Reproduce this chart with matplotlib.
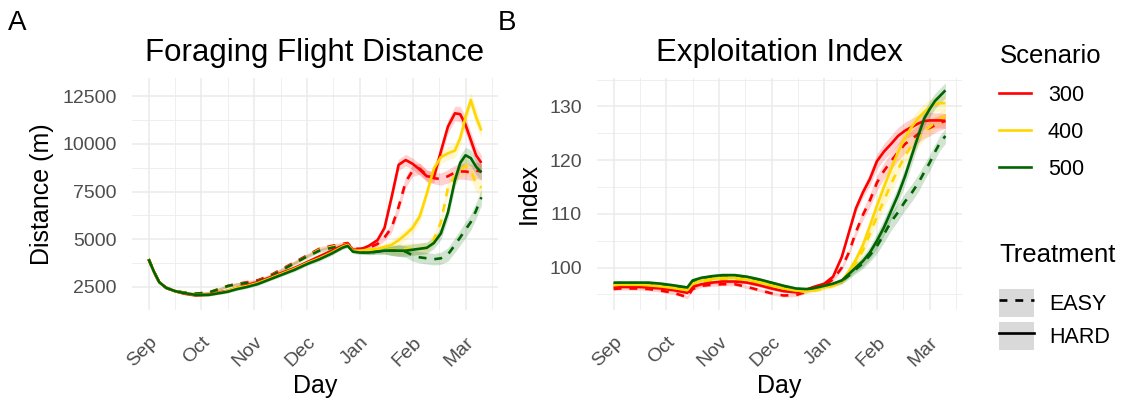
import matplotlib
matplotlib.use("Agg")
import matplotlib.pyplot as plt
import matplotlib.transforms as mtransforms
from matplotlib.lines import Line2D
from matplotlib.patches import Patch
from matplotlib.legend_handler import HandlerTuple
import numpy as np

plt.rcParams['font.family'] = ['Liberation Sans', 'DejaVu Sans']

# ---------------- data ----------------
days = [0, 3, 6, 10, 15, 20, 27, 34, 42, 45, 50, 56, 62, 69, 76, 83, 90, 97, 104, 110,
        113, 116, 120, 125, 130, 134, 138, 142, 146, 150, 154, 158, 162, 166, 170, 174,
        177, 180, 183, 186, 189]
month_ticks = [0, 30, 60, 90, 120, 150, 180]
month_labels = ["Sep", "Oct", "Nov", "Dec", "Jan", "Feb", "Mar"]
scenarios = ["300", "400", "500"]
treatments = ["EASY", "HARD"]
scenario_colors = {"300": "#FF0000", "400": "#FFD700", "500": "#006400"}

# Foraging flight distance (m)
dist_300_hard = [3950, 3300, 2750, 2450, 2280, 2150, 2050, 2100, 2250, 2300, 2450, 2600, 2750, 3000,
                 3250, 3500, 3800, 4100, 4400, 4650, 4750, 4450, 4450, 4650, 4950, 5600, 7200, 8900,
                 9150, 8950, 8650, 8300, 8250, 9600, 10900, 11600, 11550, 11000, 10200, 9400, 9000]
dist_300_easy = [3950, 3300, 2750, 2450, 2300, 2200, 2150, 2200, 2450, 2550, 2650, 2750, 2850, 3100,
                 3450, 3800, 4150, 4500, 4650, 4750, 4800, 4500, 4500, 4550, 4750, 5100, 5600, 6700,
                 8000, 8600, 8700, 8350, 8200, 8150, 8300, 8500, 8550, 8550, 8500, 8600, 8550]
dist_400_hard = [3950, 3300, 2750, 2450, 2280, 2180, 2080, 2080, 2220, 2300, 2450, 2550, 2700, 2950,
                 3200, 3450, 3750, 4000, 4300, 4600, 4700, 4400, 4400, 4450, 4500, 4600, 4700, 4950,
                 5250, 5600, 6200, 7400, 8700, 9300, 9500, 9650, 10300, 11400, 12300, 11400, 10700]
dist_400_easy = [3950, 3300, 2750, 2450, 2280, 2200, 2150, 2200, 2450, 2550, 2650, 2700, 2800, 3050,
                 3400, 3750, 4100, 4450, 4600, 4700, 4750, 4450, 4400, 4400, 4450, 4450, 4450, 4450,
                 4500, 4500, 4500, 4550, 5000, 5900, 7700, 8300, 8600, 8850, 8600, 7900, 7700]
dist_500_hard = [3950, 3300, 2750, 2450, 2280, 2180, 2080, 2080, 2200, 2250, 2380, 2500, 2650, 2900,
                 3150, 3400, 3700, 3950, 4250, 4550, 4650, 4350, 4300, 4300, 4350, 4400, 4400, 4400,
                 4400, 4450, 4500, 4550, 4800, 5300, 6400, 8100, 9000, 9400, 9250, 8800, 8500]
dist_500_easy = [3950, 3300, 2750, 2450, 2280, 2200, 2150, 2200, 2450, 2550, 2650, 2700, 2800, 3050,
                 3400, 3750, 4100, 4400, 4550, 4650, 4700, 4400, 4350, 4300, 4350, 4400, 4400, 4400,
                 4350, 4150, 4050, 4000, 3950, 4000, 4200, 4700, 5100, 5500, 5900, 6500, 7200]
dist_halfwidth = [120, 100, 80, 60, 60, 60, 60, 60, 70, 70, 70, 70, 80, 80, 80, 90, 90, 100, 100, 100,
                  100, 100, 100, 110, 130, 180, 250, 300, 300, 300, 300, 300, 300, 320, 350, 380,
                  400, 420, 420, 420, 420]

# Exploitation index
idx_300_hard = [96.3, 96.4, 96.4, 96.4, 96.4, 96.3, 96.1, 95.8, 95.3, 96.4, 96.9, 97.2, 97.4, 97.4,
                97.2, 96.7, 96.1, 95.6, 95.4, 95.9, 96.3, 96.6, 97.0, 98.3, 102.0, 106.5, 111.0, 114.0,
                116.5, 119.8, 121.6, 123.0, 124.5, 125.5, 126.2, 126.9, 127.3, 127.4, 127.4, 127.4, 127.3]
idx_300_easy = [96.0, 96.1, 96.1, 96.1, 96.1, 96.0, 95.7, 95.3, 94.5, 96.0, 96.6, 96.8, 96.9, 96.9,
                96.4, 95.8, 95.2, 94.8, 94.9, 95.5, 95.9, 96.2, 96.7, 97.8, 100.0, 102.8, 106.6, 109.8,
                112.5, 115.8, 118.0, 119.8, 121.5, 123.0, 124.0, 125.0, 125.6, 126.0, 126.5, 127.0, 127.3]
idx_400_hard = [96.7, 96.8, 96.8, 96.8, 96.8, 96.7, 96.5, 96.2, 95.8, 97.0, 97.6, 97.9, 98.1, 98.1,
                97.8, 97.3, 96.7, 96.1, 95.7, 95.7, 95.8, 96.0, 96.3, 96.8, 97.5, 99.3, 101.5, 104.2,
                107.8, 111.5, 115.0, 118.3, 121.5, 124.2, 126.3, 128.0, 129.0, 129.8, 130.4, 130.6, 130.6]
idx_400_easy = [96.4, 96.5, 96.5, 96.5, 96.5, 96.4, 96.2, 95.9, 95.4, 96.7, 97.3, 97.6, 97.8, 97.8,
                97.5, 97.0, 96.4, 95.9, 95.5, 95.5, 95.6, 95.8, 96.1, 96.6, 97.3, 98.8, 100.8, 103.2,
                106.3, 109.5, 112.5, 115.5, 118.3, 120.8, 122.8, 124.3, 125.3, 126.2, 127.0, 127.7, 128.2]
idx_500_hard = [97.2, 97.2, 97.2, 97.2, 97.2, 97.2, 97.0, 96.7, 96.3, 97.6, 98.1, 98.4, 98.6, 98.6,
                98.3, 97.8, 97.2, 96.6, 96.1, 96.0, 96.1, 96.3, 96.6, 97.0, 97.6, 98.8, 100.0, 101.2,
                102.8, 105.0, 107.5, 110.5, 113.5, 117.0, 121.0, 125.0, 127.8, 129.5, 131.0, 132.0, 133.0]
idx_500_easy = [97.0, 97.1, 97.1, 97.1, 97.1, 97.0, 96.8, 96.5, 96.1, 97.4, 97.9, 98.2, 98.4, 98.4,
                98.1, 97.6, 97.0, 96.4, 96.0, 95.9, 96.0, 96.2, 96.5, 96.9, 97.5, 98.5, 99.7, 100.8,
                102.3, 104.0, 106.2, 108.5, 110.3, 112.3, 114.0, 116.0, 117.8, 119.5, 121.5, 123.3, 124.5]
idx_halfwidth = [0.3, 0.3, 0.3, 0.3, 0.3, 0.3, 0.3, 0.3, 0.3, 0.3, 0.3, 0.3, 0.3, 0.3, 0.3, 0.3, 0.3,
                 0.3, 0.3, 0.3, 0.3, 0.3, 0.3, 0.4, 0.5, 0.6, 0.8, 1.0, 1.2, 1.4, 1.5, 1.6, 1.6, 1.6,
                 1.6, 1.6, 1.5, 1.5, 1.4, 1.4, 1.4]

dist = {("300", "HARD"): dist_300_hard, ("300", "EASY"): dist_300_easy,
        ("400", "HARD"): dist_400_hard, ("400", "EASY"): dist_400_easy,
        ("500", "HARD"): dist_500_hard, ("500", "EASY"): dist_500_easy}
idx = {("300", "HARD"): idx_300_hard, ("300", "EASY"): idx_300_easy,
       ("400", "HARD"): idx_400_hard, ("400", "EASY"): idx_400_easy,
       ("500", "HARD"): idx_500_hard, ("500", "EASY"): idx_500_easy}

# ---------------- figure ----------------
W, H = 1122, 400
fig = plt.figure(figsize=(W / 100, H / 100), dpi=100)


def px_axes(l, r, t, b):
    return fig.add_axes([l / W, 1 - b / H, (r - l) / W, (b - t) / H])


axA = px_axes(132, 498, 78, 310)
axB = px_axes(597, 962, 78, 310)

LW = 1.9
GRID = "#EBEBEB"
TICKC = "#4D4D4D"


def draw(ax, data, hw):
    x = np.array(days)
    h = np.array(hw)
    for sc in scenarios:
        for tr in treatments:
            y = np.array(data[(sc, tr)])
            ax.fill_between(x, y - h, y + h, color=scenario_colors[sc], alpha=0.18, lw=0)
    for tr in treatments:
        for sc in scenarios:
            y = np.array(data[(sc, tr)])
            ls = (0, (3, 3)) if tr == "EASY" else "-"
            ax.plot(x, y, color=scenario_colors[sc], lw=LW, ls=ls, solid_capstyle="butt")


def style(ax, title, ylabel, yticks, yminor, ylim):
    ax.set_xlim(-9.45, 198.45)
    ax.set_ylim(*ylim)
    ax.set_xticks(month_ticks)
    ax.set_xticklabels(month_labels)
    ax.set_xticks([15, 45, 75, 105, 135, 165, 195], minor=True)
    ax.set_yticks(yticks)
    ax.set_yticks(yminor, minor=True)
    ax.grid(True, which="major", color=GRID, lw=1.1)
    ax.grid(True, which="minor", color=GRID, lw=0.55)
    ax.set_axisbelow(True)
    for s in ax.spines.values():
        s.set_visible(False)
    ax.tick_params(which="both", length=0)
    ax.tick_params(axis="y", labelsize=14, labelcolor=TICKC, pad=11)
    ax.tick_params(axis="x", labelsize=14, labelcolor=TICKC, pad=17)
    offset = mtransforms.ScaledTranslation(12 / 100, 0, fig.dpi_scale_trans)
    for lab in ax.get_xticklabels():
        lab.set_rotation(45)
        lab.set_ha("right")
        lab.set_va("top")
        lab.set_transform(lab.get_transform() + offset)
    ax.set_title(title, fontsize=22.5, pad=12)
    ax.set_xlabel("Day", fontsize=18, labelpad=3)
    ax.set_ylabel(ylabel, fontsize=18, labelpad=6)


draw(axA, dist, dist_halfwidth)
draw(axB, idx, idx_halfwidth)
style(axA, "Foraging Flight Distance", "Distance (m)", [2500, 5000, 7500, 10000, 12500],
      [3750, 6250, 8750, 11250], (1290, 13450))
axA.set_yticklabels(["2500", "5000", "7500", "10000", "12500"])
style(axB, "Exploitation Index", "Index", [100, 110, 120, 130], [95, 105, 115, 125, 135],
      (92.1, 135.3))

fig.text(8 / W, 1 - 23 / H, "A", fontsize=20, va="center", ha="left")
fig.text(498 / W, 1 - 23 / H, "B", fontsize=20, va="center", ha="left")

# legends
sc_handles = [Line2D([], [], color=scenario_colors[s], lw=LW) for s in scenarios]
leg1 = fig.legend(sc_handles, scenarios, title="Scenario", loc="upper left",
                  bbox_to_anchor=(980 / W, 1 - 25 / H), frameon=False, fontsize=15.5,
                  title_fontsize=18.5, handlelength=1.45, handletextpad=0.8,
                  labelspacing=0.75, alignment="left")
fig.text(999 / W, 1 - 255 / H, "Treatment", fontsize=18.5, ha="left", va="center")
tr_handles = [(Patch(facecolor="#D9D9D9", edgecolor="none"),
               Line2D([], [], color="black", lw=LW, ls=(0, (3, 3)))),
              (Patch(facecolor="#D9D9D9", edgecolor="none"),
               Line2D([], [], color="black", lw=LW))]
leg2 = fig.legend(tr_handles, treatments, loc="upper left",
                  bbox_to_anchor=(980 / W, 1 - 270 / H), frameon=False, fontsize=15.5,
                  handlelength=1.63, handleheight=1.6,
                  handletextpad=0.7, labelspacing=0.25, alignment="left",
                  handler_map={tuple: HandlerTuple(ndivide=1, pad=0)})

fig.savefig("out.png", dpi=100)
